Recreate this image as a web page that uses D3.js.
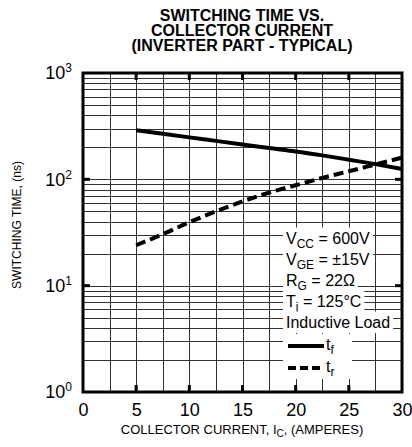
<!DOCTYPE html>
<html>
<head>
<meta charset="utf-8">
<script src="https://cdn.jsdelivr.net/npm/d3@7"></script>
<style>
  body { margin: 0; background: #fff; }
  svg { display: block; font-family: "Liberation Sans", Arial, Helvetica, sans-serif; }
</style>
</head>
<body>
<div id="canvas"></div>
<script>
"use strict"

// Chart values
let titleLines = ["SWITCHING TIME VS.", "COLLECTOR CURRENT", "(INVERTER PART - TYPICAL)"];
let currentA = [5, 7.5, 10, 12.5, 15, 17.5, 20, 22.5, 25, 27.5, 30];
let fallTime = [290, 268, 248, 230, 213, 197, 183, 168, 153, 139, 125];
let riseTime = [24, 30.5, 39.5, 50, 62, 75, 88, 103, 119, 138, 160];
let xTicks = [0, 5, 10, 15, 20, 25, 30];
let yTicks = [1, 10, 100, 1000];
let conditions = [
    ["V", "CC", " = 600V"],
    ["V", "GE", " = \u00b115V"],
    ["R", "G", " = 22\u03a9"],
    ["T", "j", " = 125\u00b0C"],
    ["Inductive Load", "", ""]
];
let keys = [
    { name: "f", dash: null },
    { name: "r", dash: "8,4" }
];

let drawing = d3.select("#canvas")
    .append("svg")
    .attr("width", 412)
    .attr("height", 447);

drawing.append("rect")
    .attr("width", 412)
    .attr("height", 447)
    .attr("fill", "white");

let x = d3.scaleLinear().domain([0, 30]).range([83, 402]);
let y = d3.scaleLog().domain([1, 1000]).range([392, 73]);

// Title
drawing.append("text")
    .attr("x", 242)
    .attr("y", 20.5)
    .attr("text-anchor", "middle")
    .attr("font-size", 16)
    .attr("font-weight", "bold")
    .selectAll("tspan")
    .data(titleLines)
    .join("tspan")
    .attr("x", 242)
    .attr("dy", (d, i) => i === 0 ? 0 : 15.3)
    .text(d => d);

// Grid lines
let grid = drawing.append("g")
    .attr("stroke", "#333")
    .attr("stroke-width", 1);

grid.selectAll("line.v")
    .data(d3.range(0, 31, 2.5))
    .join("line")
    .attr("class", "v")
    .attr("x1", d => Math.round(x(d)) + 0.5)
    .attr("x2", d => Math.round(x(d)) + 0.5)
    .attr("y1", y(1000))
    .attr("y2", y(1));

let logLines = [];
[1, 10, 100].forEach(dec => {
    for (let k = 1; k < 10; k++) logLines.push(k * dec);
});
grid.selectAll("line.h")
    .data(logLines)
    .join("line")
    .attr("class", "h")
    .attr("x1", x(0))
    .attr("x2", x(30))
    .attr("y1", d => Math.round(y(d)) + 0.5)
    .attr("y2", d => Math.round(y(d)) + 0.5);

// Inward tick marks
let marks = drawing.append("g")
    .attr("stroke", "black")
    .attr("stroke-width", 3);
[y(1000), y(1)].forEach((edge, i) => {
    marks.selectAll(null)
        .data(xTicks.slice(1, -1))
        .join("line")
        .attr("x1", d => x(d))
        .attr("x2", d => x(d))
        .attr("y1", edge)
        .attr("y2", edge + (i === 0 ? 7 : -7));
});
[x(0), x(30)].forEach((edge, i) => {
    marks.selectAll(null)
        .data(yTicks.slice(1, -1))
        .join("line")
        .attr("y1", d => y(d))
        .attr("y2", d => y(d))
        .attr("x1", edge)
        .attr("x2", edge + (i === 0 ? 7 : -7));
});

// Curves
let line = d3.line()
    .x(d => x(d[0]))
    .y(d => y(d[1]))
    .curve(d3.curveMonotoneX);

drawing.append("path")
    .datum(d3.zip(currentA, fallTime))
    .attr("d", line)
    .attr("fill", "none")
    .attr("stroke", "black")
    .attr("stroke-width", 4);

drawing.append("path")
    .datum(d3.zip(currentA, riseTime))
    .attr("d", line)
    .attr("fill", "none")
    .attr("stroke", "black")
    .attr("stroke-width", 4)
    .attr("stroke-dasharray", "10,5");

// Legend / conditions box
let legend = drawing.append("g");
conditions.forEach((c, i) => {
    let base = 243.5 + i * 21;
    let row = legend.append("g");
    let bg = row.append("rect").attr("fill", "white");
    let t = row.append("text")
        .attr("x", 286)
        .attr("y", base)
        .attr("font-size", 16);
    t.append("tspan").text(c[0]);
    if (c[1]) {
        t.append("tspan").attr("dy", 4).attr("font-size", 12).text(c[1]);
        t.append("tspan").attr("dy", -4).text(c[2]);
    }
    let bb = t.node().getBBox();
    bg.attr("x", 283)
        .attr("y", base - 16)
        .attr("width", bb.x + bb.width - 283 + 3)
        .attr("height", 21.5);
});

keys.forEach((k, i) => {
    let ly = 346 + i * 22;
    legend.append("rect")
        .attr("x", 283)
        .attr("y", ly - 12)
        .attr("width", 69)
        .attr("height", 23)
        .attr("fill", "white");
    legend.append("line")
        .attr("x1", 288)
        .attr("x2", 324)
        .attr("y1", ly)
        .attr("y2", ly)
        .attr("stroke", "black")
        .attr("stroke-width", 4)
        .attr("stroke-dasharray", k.dash);
    let t = legend.append("text")
        .attr("x", 326)
        .attr("y", ly + 4)
        .attr("font-size", 16);
    t.append("tspan").text("t");
    t.append("tspan").attr("dy", 4).attr("font-size", 12).text(k.name);
});

// Frame
drawing.append("rect")
    .attr("x", x(0))
    .attr("y", y(1000))
    .attr("width", x(30) - x(0))
    .attr("height", y(1) - y(1000))
    .attr("fill", "none")
    .attr("stroke", "black")
    .attr("stroke-width", 3);

// Axes (labels only)
let xAxis = drawing.append("g")
    .attr("transform", "translate(0," + y(1) + ")")
    .call(d3.axisBottom(x).tickValues(xTicks).tickSize(0).tickPadding(11));
xAxis.select(".domain").remove();
xAxis.selectAll("text")
    .attr("font-size", 18)
    .attr("font-family", null)
    .attr("fill", "black");

let yAxis = drawing.append("g")
    .attr("transform", "translate(" + x(0) + ",0)")
    .call(d3.axisLeft(y).tickValues(yTicks).tickSize(0).tickPadding(11).tickFormat(""));
yAxis.select(".domain").remove();
yAxis.selectAll("text")
    .attr("font-size", 18)
    .attr("font-family", null)
    .attr("fill", "black")
    .each(function(d) {
        let t = d3.select(this);
        t.append("tspan").text("10");
        t.append("tspan")
            .attr("dy", -7)
            .attr("font-size", 12)
            .text(Math.round(Math.log10(d)));
    });

// Axis titles
let xTitle = drawing.append("text")
    .attr("x", 242)
    .attr("y", 434)
    .attr("text-anchor", "middle")
    .attr("font-size", 13);
xTitle.append("tspan").text("COLLECTOR CURRENT, I");
xTitle.append("tspan").attr("dy", 3).attr("font-size", 10).text("C");
xTitle.append("tspan").attr("dy", -3).text(", (AMPERES)");

drawing.append("text")
    .attr("transform", "translate(21,225) rotate(-90)")
    .attr("text-anchor", "middle")
    .attr("font-size", 12)
    .text("SWITCHING TIME, (ns)");
</script>
</body>
</html>
